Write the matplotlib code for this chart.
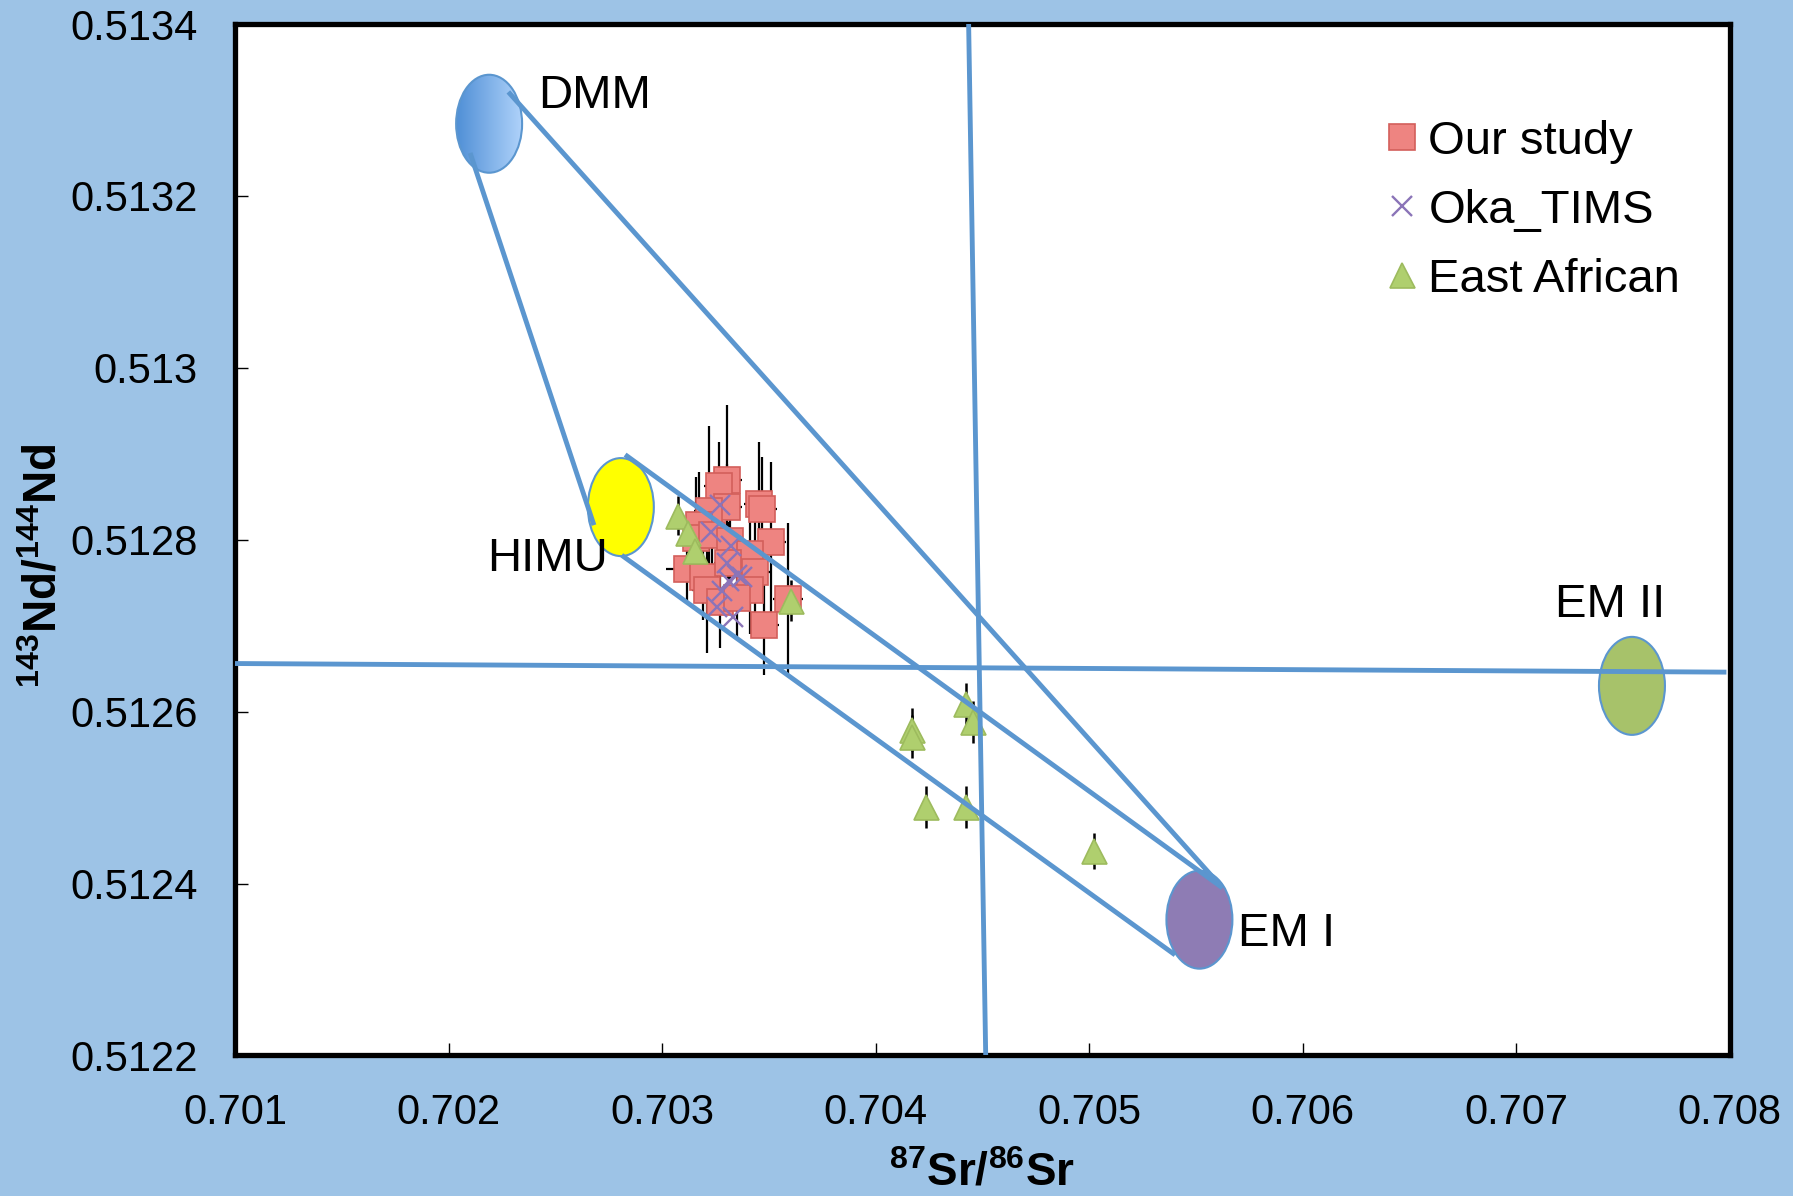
import numpy as np
import matplotlib
matplotlib.use("Agg")
import matplotlib.pyplot as plt
from matplotlib.patches import Ellipse
from matplotlib.colors import LinearSegmentedColormap

plt.rcParams['font.family'] = ['Liberation Sans', 'DejaVu Sans']
plt.rcParams['mathtext.fontset'] = 'custom'
plt.rcParams['mathtext.rm'] = 'Liberation Sans'
plt.rcParams['mathtext.bf'] = 'Liberation Sans:bold'
plt.rcParams['mathtext.it'] = 'Liberation Sans:italic'

# Our study: 87Sr/86Sr, 143Nd/144Nd and 1 sigma errors
study_sr = [0.703304, 0.703268, 0.703454, 0.703467, 0.703306, 0.703219, 0.703173, 0.703509,
            0.703158, 0.703233, 0.703319, 0.703412, 0.703119, 0.703194, 0.703311, 0.703436,
            0.703412, 0.703209, 0.703272, 0.703350, 0.703589, 0.703476]
study_nd = [0.512869, 0.512863, 0.512842, 0.512836, 0.512838, 0.512834, 0.512817, 0.512797,
            0.512802, 0.512806, 0.512798, 0.512784, 0.512766, 0.512757, 0.512773, 0.512763,
            0.512742, 0.512742, 0.512728, 0.512732, 0.512731, 0.512701]
study_sr_err = [0.00007, 0.00007, 0.00007, 0.00007, 0.00007, 0.00007, 0.00007, 0.00007,
                0.00007, 0.00007, 0.00007, 0.00007, 0.00010, 0.00007, 0.00007, 0.00007,
                0.00007, 0.00007, 0.00007, 0.00007, 0.00007, 0.00007]
study_nd_err = [0.000088, 0.000051, 0.000072, 0.000060, 0.000050, 0.000098, 0.000062, 0.000094,
                0.000071, 0.000055, 0.000045, 0.000050, 0.000040, 0.000050, 0.000048, 0.000060,
                0.000052, 0.000074, 0.000054, 0.000047, 0.000088, 0.000058]

# Oka TIMS
oka_sr = [0.703272, 0.703228, 0.703323, 0.703306, 0.703350, 0.703315, 0.703280, 0.703259,
          0.703331, 0.703373]
oka_nd = [0.512840, 0.512809, 0.512793, 0.512773, 0.512759, 0.512752, 0.512740, 0.512722,
          0.512710, 0.512757]

# East African
ea_sr = [0.703076, 0.703123, 0.703155, 0.703603, 0.704172, 0.704172, 0.704424, 0.704455,
         0.704235, 0.704424, 0.705023]
ea_nd = [0.512828, 0.512808, 0.512787, 0.512729, 0.512579, 0.512571, 0.512609, 0.512588,
         0.512489, 0.512489, 0.512438]
ea_nd_err = [0.000023, 0.000023, 0.000023, 0.000024, 0.000025, 0.000025, 0.000024, 0.000024,
             0.000024, 0.000024, 0.000021]

# mantle end-members
em_names = ['DMM', 'HIMU', 'EM I', 'EM II']
em_sr = [0.702190, 0.702807, 0.705517, 0.707543]
em_nd = [0.513284, 0.512838, 0.512358, 0.512630]
em_colors = [None, '#FFFF00', '#8E7CB4', '#A7C26A']

# mixing lines (start / end)
mix_sr0 = [0.702280, 0.702101, 0.702827, 0.702811]
mix_nd0 = [0.513321, 0.513250, 0.512899, 0.512782]
mix_sr1 = [0.705625, 0.702681, 0.705625, 0.705403]
mix_nd1 = [0.512395, 0.512817, 0.512395, 0.512317]

# reference lines
vert_sr = [0.704436, 0.704516]
vert_nd = [0.5134, 0.5122]
horiz_sr = [0.701, 0.707974]
horiz_nd = [0.512656, 0.512646]

xticks = [0.701, 0.702, 0.703, 0.704, 0.705, 0.706, 0.707, 0.708]
xlabels = ['0.701', '0.702', '0.703', '0.704', '0.705', '0.706', '0.707', '0.708']
yticks = [0.5122, 0.5124, 0.5126, 0.5128, 0.5130, 0.5132, 0.5134]
ylabels = ['0.5122', '0.5124', '0.5126', '0.5128', '0.513', '0.5132', '0.5134']

line_col = '#5B96CF'

fig = plt.figure(figsize=(17.93, 11.96), dpi=100, facecolor='#9DC3E6')
ax = fig.add_axes([0.1311, 0.1175, 0.8335, 0.8624])
ax.set_facecolor('white')

ax.errorbar(study_sr, study_nd, xerr=study_sr_err, yerr=study_nd_err, fmt='none',
            ecolor='black', elinewidth=1.6, capsize=0, zorder=2)
ax.errorbar(ea_sr, ea_nd, yerr=ea_nd_err, fmt='none', ecolor='black', elinewidth=1.8,
            capsize=0, zorder=2)

ax.plot(study_sr, study_nd, 's', ms=19, mfc='#EE8481', mec='#D35F5B', mew=1.2,
        ls='none', zorder=3, label='Our study')
ax.plot(oka_sr, oka_nd, 'x', ms=15, mec='#8B74B8', mew=1.7, ls='none', zorder=4,
        label='Oka_TIMS')
ax.plot(ea_sr, ea_nd, '^', ms=18, mfc='#AFCF6E', mec='#9DBB5E', mew=1.2, ls='none',
        zorder=4, label='East African')

# end-member ellipses
ew, eh = 0.000309, 0.000114
for name, sx, ny, col in zip(em_names, em_sr, em_nd, em_colors):
    if col is None:
        e = Ellipse((sx, ny), ew, eh, facecolor='none', edgecolor=line_col, lw=1.5, zorder=5)
        ax.add_patch(e)
        grad = np.linspace(0, 1, 256).reshape(1, -1)
        cmap = LinearSegmentedColormap.from_list('dmm', ['#4F8FD6', '#AFD2FA'])
        im = ax.imshow(grad, extent=[sx - ew / 2, sx + ew / 2, ny - eh / 2, ny + eh / 2],
                       cmap=cmap, aspect='auto', zorder=4.9)
        im.set_clip_path(e)
    else:
        ax.add_patch(Ellipse((sx, ny), ew, eh, facecolor=col, edgecolor=line_col,
                             lw=1.5, zorder=5))

for x0, y0, x1, y1 in zip(mix_sr0, mix_nd0, mix_sr1, mix_nd1):
    ax.plot([x0, x1], [y0, y1], color=line_col, lw=3.5, solid_capstyle='butt', zorder=6)
ax.plot(vert_sr, vert_nd, color=line_col, lw=3.5, zorder=6)
ax.plot(horiz_sr, horiz_nd, color=line_col, lw=3.5, zorder=6)

ax.text(0.702419, 0.513316, 'DMM', fontsize=34, ha='left', va='center', zorder=7)
ax.text(0.702747, 0.512778, 'HIMU', fontsize=34, ha='right', va='center', zorder=7)
ax.text(0.705700, 0.512341, 'EM I', fontsize=34, ha='left', va='center', zorder=7)
ax.text(0.707443, 0.512724, 'EM II', fontsize=34, ha='center', va='center', zorder=7)

ax.set_xlim(0.701, 0.708)
ax.set_ylim(0.5122, 0.5134)
ax.set_xticks(xticks)
ax.set_xticklabels(xlabels)
ax.set_yticks(yticks)
ax.set_yticklabels(ylabels)
ax.tick_params(direction='in', length=9, width=1, labelsize=30, pad=27)
for s in ax.spines.values():
    s.set_linewidth(3.8)

ax.set_xlabel(r'$\mathbf{{}^{87}Sr/{}^{86}Sr}$', fontsize=33, labelpad=13)
ax.set_ylabel(r'$\mathbf{{}^{143}Nd/{}^{144}Nd}$', fontsize=33)
ax.yaxis.set_label_coords(-0.113, 0.4746)

ax.legend(loc='upper left', bbox_to_anchor=(0.7716, 0.907), frameon=False, fontsize=34,
          handlelength=0.6, handletextpad=0.25, labelspacing=0.53, borderpad=0,
          borderaxespad=0, numpoints=1)

fig.savefig('out.png', dpi=100, facecolor=fig.get_facecolor())
